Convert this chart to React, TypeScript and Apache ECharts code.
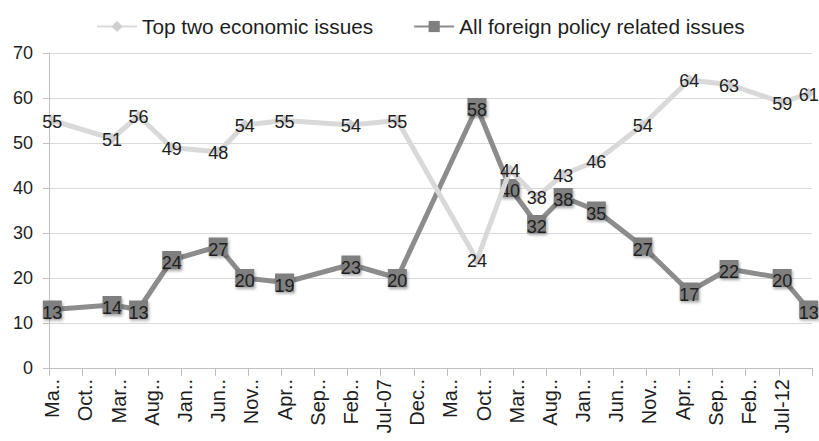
import React, { useEffect, useRef } from "react";
import * as echarts from "echarts";

// Survey dates (month positions on the date axis)
const surveyDates = [
  "May-03", "Feb-04", "Jun-04", "Nov-04", "Jun-05", "Oct-05", "Apr-06", "Feb-07", "Sep-07",
  "Sep-08", "Feb-09", "Jun-09", "Oct-09", "Mar-10", "Oct-10", "May-11", "Nov-11", "Jul-12", "Nov-12",
];
const economicValues = [55, 51, 56, 49, 48, 54, 55, 54, 55, 24, 44, 38, 43, 46, 54, 64, 63, 59, 61];
const foreignValues = [13, 14, 13, 24, 27, 20, 19, 23, 20, 58, 40, 32, 38, 35, 27, 17, 22, 20, 13];

const tickLabels = [
  "Ma..", "Oct..", "Mar..", "Aug..", "Jan..", "Jun..", "Nov..", "Apr..", "Sep..", "Feb..", "Jul-07",
  "Dec..", "Ma..", "Oct..", "Mar..", "Aug..", "Jan..", "Jun..", "Nov..", "Apr..", "Sep..", "Feb..", "Jul-12",
];
const yTicks = [0, 10, 20, 30, 40, 50, 60, 70];

const seriesNames = ["Top two economic issues", "All foreign policy related issues"];

const MONTHS = ["Jan", "Feb", "Mar", "Apr", "May", "Jun", "Jul", "Aug", "Sep", "Oct", "Nov", "Dec"];
function buildCategories(): string[] {
  const out: string[] = [];
  let m = 4; // May
  let y = 2003;
  while (!(y === 2012 && m === 11)) {
    out.push(`${MONTHS[m]}-${String(y % 100).padStart(2, "0")}`);
    m++;
    if (m === 12) { m = 0; y++; }
  }
  return out;
}

export default function App() {
  const ref = useRef<HTMLDivElement>(null);
  useEffect(() => {
    document.body.style.margin = "0";
    if (!ref.current) return;
    const chart = echarts.init(ref.current, null, { renderer: "svg" });
    const categories = buildCategories();
    const toSeries = (vals: number[]) => {
      const arr: (number | null)[] = categories.map(() => null);
      surveyDates.forEach((d, i) => {
        const idx = categories.indexOf(d);
        if (idx >= 0) arr[idx] = vals[i];
      });
      return arr;
    };
    const font = "'Liberation Sans', Arial, sans-serif";
    const labelStyle = {
      show: true,
      position: "inside" as const,
      offset: [0, 2],
      fontSize: 18,
      color: "#1e1e1e",
      fontFamily: font,
      formatter: (p: any) => (p.value == null ? "" : String(p.value)),
    };
    chart.setOption({
      animation: false,
      textStyle: { fontFamily: font },
      legend: {
        left: 91,
        top: 11,
        itemWidth: 40,
        itemHeight: 14,
        itemGap: 40,
        textStyle: { fontSize: 20.8, color: "#1e1e1e", fontFamily: font },
        data: seriesNames,
      },
      grid: { left: 49, right: 7, top: 53, height: 315 },
      xAxis: {
        type: "category",
        data: categories,
        boundaryGap: true,
        axisLine: { show: true, lineStyle: { color: "#bfbfbf", width: 1 } },
        axisTick: { show: true, interval: 4, length: 8, lineStyle: { color: "#bfbfbf" } },
        axisLabel: {
          interval: 4,
          rotate: 90,
          margin: 11,
          fontSize: 20,
          color: "#1e1e1e",
          fontFamily: font,
          formatter: (_v: string, idx: number) =>
            idx % 5 === 0 ? tickLabels[idx / 5] ?? "" : "",
        },
        splitLine: { show: false },
      },
      yAxis: {
        type: "value",
        min: yTicks[0],
        max: yTicks[yTicks.length - 1],
        interval: 10,
        axisLine: { show: true, lineStyle: { color: "#bfbfbf", width: 1 } },
        axisTick: { show: true, length: 6, lineStyle: { color: "#bfbfbf" } },
        axisLabel: { fontSize: 18, color: "#1e1e1e", margin: 16, fontFamily: font },
        splitLine: { show: true, lineStyle: { color: "#d9d9d9", width: 1 } },
      },
      series: [
        {
          name: seriesNames[0],
          type: "line",
          data: toSeries(economicValues),
          connectNulls: true,
          showAllSymbol: true,
          symbol: "diamond",
          symbolSize: 11,
          itemStyle: { color: "#cfcfcf" },
          lineStyle: { color: "#d9d9d9", width: 5 },
          label: { ...labelStyle, offset: [0, 1] },
          z: 4,
        },
        {
          name: seriesNames[1],
          type: "line",
          data: toSeries(foreignValues),
          connectNulls: true,
          showAllSymbol: true,
          symbol: "rect",
          symbolSize: [19, 18],
          itemStyle: {
            color: "#7f7f7f",
            shadowBlur: 3,
            shadowColor: "rgba(0,0,0,0.35)",
            shadowOffsetX: 1,
            shadowOffsetY: 2,
          },
          lineStyle: { color: "#8c8c8c", width: 5 },
          label: { ...labelStyle, offset: [0, 3] },
          z: 3,
        },
      ],
    });
    return () => chart.dispose();
  }, []);
  return <div ref={ref} style={{ width: 819, height: 441 }} />;
}
